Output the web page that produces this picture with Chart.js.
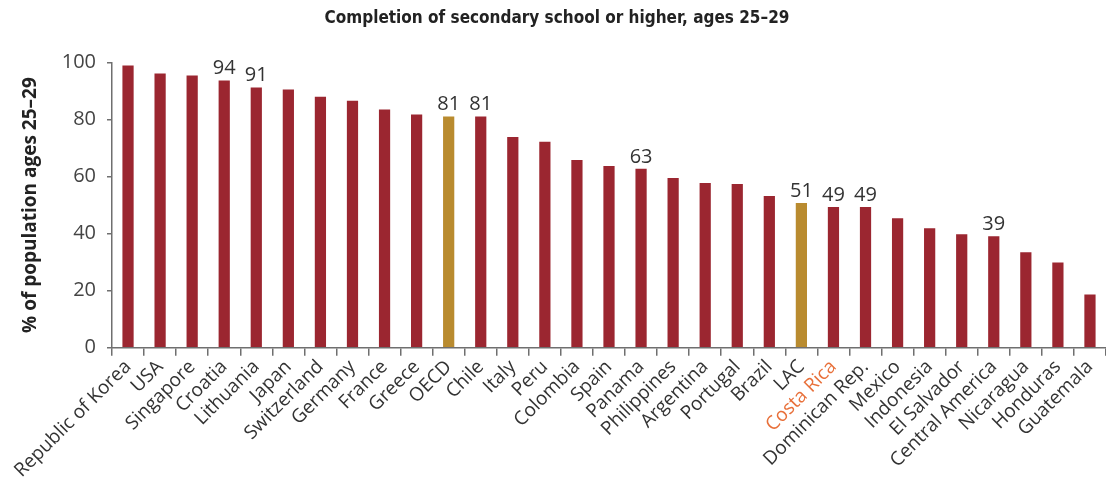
<!DOCTYPE html>
<html>
<head>
<meta charset="utf-8">
<script src="https://cdn.jsdelivr.net/npm/chart.js@4/dist/chart.umd.min.js"></script>
<style>
html,body{margin:0;padding:0;background:#fff;}
#wrap{width:1106px;height:482px;position:relative;}
</style>
</head>
<body>
<div id="wrap"><canvas id="c" width="1106" height="482"></canvas></div>
<script>
const categories = ["Republic of Korea","USA","Singapore","Croatia","Lithuania","Japan","Switzerland","Germany","France","Greece","OECD","Chile","Italy","Peru","Colombia","Spain","Panama","Philippines","Argentina","Portugal","Brazil","LAC","Costa Rica","Dominican Rep.","Mexico","Indonesia","El Salvador","Central America","Nicaragua","Honduras","Guatemala"];
const values = [98.9,96.1,95.4,93.7,91.2,90.5,88.0,86.6,83.5,81.7,81.0,81.0,73.9,72.2,65.8,63.7,62.7,59.5,57.7,57.4,53.2,50.7,49.3,49.3,45.4,41.9,39.8,39.1,33.5,29.9,18.7];
const valueLabels = ["","","","94","91","","","","","","81","81","","","","","63","","","","","51","49","49","","","","39","","",""];
const highlighted = ["OECD","LAC"];
const yTicks = [0,20,40,60,80,100];
const RED = "#9B2630", GOLD = "#B98B2F", ORANGE = "#E8703A", TXT = "#333333", AXIS = "#6f6f6f";
const FONT = "'Open Sans', 'Noto Sans', sans-serif";
const NARROW = "'Liberation Sans Narrow', 'DejaVu Sans Condensed', 'Open Sans', sans-serif";

const labelPlugin = {
  id: "valueLabels",
  afterDatasetsDraw(chart) {
    const ctx = chart.ctx;
    const meta = chart.getDatasetMeta(0);
    ctx.save();
    ctx.font = "20px " + FONT;
    ctx.fillStyle = TXT;
    ctx.textAlign = "center";
    ctx.textBaseline = "bottom";
    meta.data.forEach((bar, i) => {
      if (valueLabels[i]) ctx.fillText(valueLabels[i], bar.x, bar.y - 2);
    });
    ctx.restore();
  }
};

new Chart(document.getElementById("c"), {
  type: "bar",
  data: {
    labels: categories,
    datasets: [{
      data: values,
      backgroundColor: categories.map(c => highlighted.includes(c) ? GOLD : RED),
      barPercentage: 0.7,
      categoryPercentage: 0.5
    }]
  },
  options: {
    responsive: false,
    animation: false,
    layout: { padding: { top: 0, right: -4, left: 4, bottom: 0 } },
    plugins: {
      legend: { display: false },
      tooltip: { enabled: false },
      title: {
        display: true,
        text: "Completion of secondary school or higher, ages 25–29",
        color: "#222",
        font: { family: NARROW, size: 17, weight: "bold" },
        padding: { top: 8, bottom: 34 }
      }
    },
    scales: {
      y: {
        min: 0, max: 100,
        afterBuildTicks(axis) { axis.ticks = yTicks.map(v => ({ value: v })); },
        afterFit(axis) { axis.width = 108; },
        border: { display: true, color: AXIS, width: 1.5 },
        grid: { drawOnChartArea: false, drawTicks: true, tickLength: 5, color: AXIS, lineWidth: 1.5 },
        ticks: { color: "#444", font: { family: FONT, size: 20 }, padding: 11 },
        title: {
          display: true,
          text: "% of population ages 25–29",
          color: "#222",
          font: { family: FONT, size: 19, weight: "bold" },
          padding: { top: 15, bottom: 4 }
        }
      },
      x: {
        offset: true,
        afterFit(axis) { axis.paddingRight = 0; },
        border: { display: true, color: AXIS, width: 1.5 },
        grid: { offset: true, drawOnChartArea: false, drawTicks: true, tickLength: 8, color: AXIS, lineWidth: 1.5 },
        ticks: {
          autoSkip: false,
          minRotation: 45, maxRotation: 45,
          padding: 0,
          color: (ctx) => categories[ctx.index] === "Costa Rica" ? ORANGE : TXT,
          font: { family: FONT, size: 19 }
        }
      }
    }
  },
  plugins: [labelPlugin]
});
</script>
</body>
</html>
